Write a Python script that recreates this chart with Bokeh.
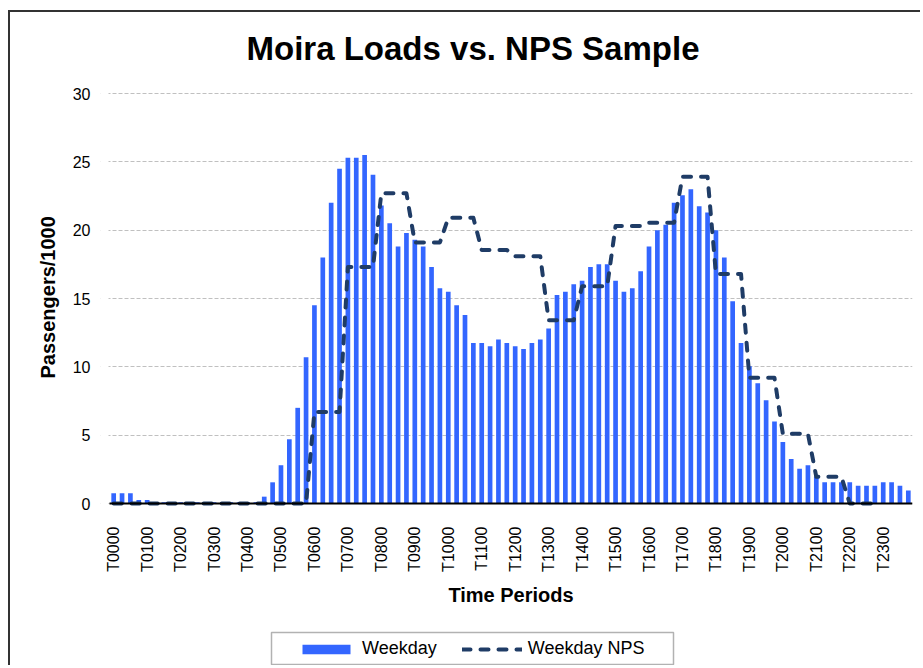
import math
import numpy as np
from bokeh.plotting import figure
from bokeh.models import (ColumnDataSource, FixedTicker, Range1d, Legend, LegendItem,
                          Label, BoxAnnotation, Title)
from bokeh.embed import file_html
from bokeh.resources import INLINE

# ---- data ----
hours = [f"{h:02d}" for h in range(24)]
quarters = ["00", "15", "30", "45"]
periods = [f"T{h}{q}" for h in hours for q in quarters]
hour_labels = [f"T{h}00" for h in hours]
y_ticks = [0, 5, 10, 15, 20, 25, 30]

weekday = [
    0.75, 0.75, 0.75, 0.25,    # T00
    0.25, 0.10, 0.10, 0.10,    # T01
    0.10, 0.10, 0.10, 0.10,    # T02
    0.10, 0.10, 0.10, 0.10,    # T03
    0.10, 0.10, 0.50, 1.55,    # T04
    2.80, 4.70, 7.00, 10.70,   # T05
    14.50, 18.00, 22.00, 24.50,  # T06
    25.30, 25.30, 25.50, 24.05,  # T07
    21.80, 20.50, 18.80, 19.80,  # T08
    19.30, 18.80, 17.30, 15.75,  # T09
    15.50, 14.50, 13.80, 11.75,  # T10
    11.75, 11.50, 12.00, 11.75,  # T11
    11.50, 11.30, 11.75, 12.00,  # T12
    12.80, 15.25, 15.50, 16.05,  # T13
    16.30, 17.30, 17.50, 17.50,  # T14
    16.30, 15.50, 15.75, 17.00,  # T15
    18.80, 20.00, 20.40, 22.00,  # T16
    22.55, 23.00, 21.75, 21.30,  # T17
    20.00, 18.00, 14.80, 11.75,  # T18
    10.05, 8.80, 7.55, 6.00,     # T19
    4.50, 3.25, 2.55, 2.80,      # T20
    2.00, 1.55, 1.55, 1.55,      # T21
    1.55, 1.30, 1.30, 1.30,      # T22
    1.55, 1.55, 1.30, 0.95,      # T23
]

nan = float("nan")
weekday_nps = [
    0, 0, 0, 0,                  # T00
    0, 0, 0, 0,                  # T01
    0, 0, 0, 0,                  # T02
    0, 0, 0, 0,                  # T03
    0, 0, 0, 0,                  # T04
    0, 0, 0, 0,                  # T05
    6.7, 6.7, 6.7, 6.7,          # T06
    17.3, 17.3, 17.3, 17.3,      # T07
    22.7, 22.7, 22.7, 22.7,      # T08
    19.1, 19.1, 19.1, 19.1,      # T09
    20.9, 20.9, 20.9, 20.9,      # T10
    18.55, 18.55, 18.55, 18.55,  # T11
    18.1, 18.1, 18.1, 18.1,      # T12
    13.4, 13.4, 13.4, 13.4,      # T13
    15.9, 15.9, 15.9, 15.9,      # T14
    20.3, 20.3, 20.3, 20.3,      # T15
    20.55, 20.55, 20.55, 20.55,  # T16
    23.9, 23.9, 23.9, 23.9,      # T17
    16.8, 16.8, 16.8, 16.8,      # T18
    9.2, 9.2, 9.2, 9.2,          # T19
    5.1, 5.1, 5.1, 5.1,          # T20
    1.95, 1.95, 1.95, 1.95,      # T21
    0, 0, 0, 0,                  # T22
    nan, nan, nan, nan,          # T23
]

# ---- layout (pixels on the page) ----
W, H = 912, 655            # figure canvas (placed at page x=10, y=12)
FONT = "Liberation Sans"
FR_LEFT = 100              # frame left on page (a little room for the first label)
AX_LEFT, AX_RIGHT = 109, 912   # page x of the category axis ends
FR_TOP, FR_BOT = 13, 665   # frame top / bottom on page
Y0, Y30 = 503, 93          # page y of value 0 and value 30
px_per_unit = (Y0 - Y30) / 30.0
y_lo = -(FR_BOT - Y0) / px_per_unit
y_hi = (Y0 - FR_TOP) / px_per_unit
px_per_bar = (AX_RIGHT - AX_LEFT) / len(periods)
x_lo = -0.5 - (AX_LEFT - FR_LEFT) / px_per_bar
x_hi = len(periods) - 0.5

src = ColumnDataSource(dict(x=list(range(len(periods))), period=periods,
                            weekday=weekday, nps=weekday_nps))

p = figure(width=W, height=H, output_backend="svg", toolbar_location=None,
           x_range=Range1d(x_lo, x_hi), y_range=Range1d(y_lo, y_hi),
           min_border_left=FR_LEFT - 10, min_border_right=10, min_border_top=1,
           min_border_bottom=2)
p.margin = (10, 0, 0, 8)
p.styles = {"border-top": "2px solid #333333", "border-left": "2px solid #333333"}
p.outline_line_color = None
p.background_fill_color = "white"
p.border_fill_color = "white"

# grid
p.xgrid.visible = False
p.ygrid.ticker = FixedTicker(ticks=y_ticks)
p.ygrid.grid_line_color = "#c0c0c0"
p.ygrid.grid_line_dash = "4 2"
p.ygrid.grid_line_width = 1

# white strip so grid lines start at the plot-area edge, as in the reference
p.add_layout(BoxAnnotation(left=0, right=AX_LEFT - 1 - FR_LEFT,
                           bottom=FR_BOT - 507, top=FR_BOT - 85,
                           left_units="screen", right_units="screen",
                           top_units="screen", bottom_units="screen",
                           fill_color="white", fill_alpha=1, line_color=None,
                           level="underlay"))

bars = p.vbar(x="x", top="weekday", width=0.56, source=src,
              fill_color="#3366ff", line_color=None)
nps_line = p.line(x="x", y="nps", source=src, line_color="#1f3c66", line_width=4,
                  line_dash="8 10", line_cap="round", line_join="round")

# y axis
p.yaxis.ticker = FixedTicker(ticks=y_ticks)
p.yaxis.axis_line_color = None
p.yaxis.major_tick_line_color = None
p.yaxis.minor_tick_line_color = None
p.yaxis.major_label_standoff = 13 - (AX_LEFT - FR_LEFT)
p.yaxis.major_label_text_font = FONT
p.yaxis.major_label_text_font_size = "16px"
p.yaxis.major_label_text_color = "black"

ytitle = Title(text="Passengers/1000", align="left", offset=FR_BOT - 378,
               standoff=21, text_font=FONT, text_font_style="bold",
               text_font_size="20px", text_color="black")
p.add_layout(ytitle, "left")

# x axis, drawn at value 0 inside the frame
hour_idx = [i for i, per in enumerate(periods) if per in hour_labels]
p.xaxis.fixed_location = 0
p.xaxis.bounds = (-0.5, len(periods) - 0.5)
p.xaxis.ticker = FixedTicker(ticks=hour_idx)
p.xaxis.major_label_overrides = {i: periods[i] for i in hour_idx}
p.xaxis.major_label_orientation = math.pi / 2
p.xaxis.axis_line_color = "black"
p.xaxis.axis_line_width = 2
p.xaxis.major_tick_line_color = None
p.xaxis.minor_tick_line_color = None
p.xaxis.major_label_standoff = 17
p.xaxis.major_label_text_font = FONT
p.xaxis.major_label_text_font_size = "16px"
p.xaxis.major_label_text_color = "black"
p.xaxis.axis_label = "Time Periods"
p.xaxis.axis_label_text_font = FONT
p.xaxis.axis_label_text_font_style = "bold"
p.xaxis.axis_label_text_font_size = "20px"
p.xaxis.axis_label_text_color = "black"
p.xaxis.axis_label_standoff = 9

# chart title (inside the frame area)
p.add_layout(Label(x=472.5 - FR_LEFT, y=FR_BOT - 48, x_units="screen", y_units="screen",
                   text="Moira Loads vs. NPS Sample", text_align="center",
                   text_baseline="alphabetic", text_font=FONT,
                   text_font_style="bold", text_font_size="33px",
                   text_color="black"))

# legend box
p.add_layout(BoxAnnotation(left=271 - FR_LEFT, right=673 - FR_LEFT,
                           top=FR_BOT - 632, bottom=FR_BOT - 664,
                           left_units="screen", right_units="screen",
                           top_units="screen", bottom_units="screen",
                           fill_alpha=0, line_color="black", line_width=1.5,
                           level="overlay"))

legend = Legend(items=[LegendItem(label="Weekday", renderers=[bars]),
                       LegendItem(label="Weekday NPS", renderers=[nps_line])],
                orientation="horizontal", location=(296 - FR_LEFT, 6), margin=0,
                glyph_width=60, glyph_height=12, label_standoff=6, spacing=25,
                padding=0, border_line_color=None, background_fill_alpha=0,
                label_text_font=FONT, label_text_font_size="18px",
                label_text_color="black")
p.add_layout(legend)

open("out.html", "w").write(file_html(p, INLINE))
